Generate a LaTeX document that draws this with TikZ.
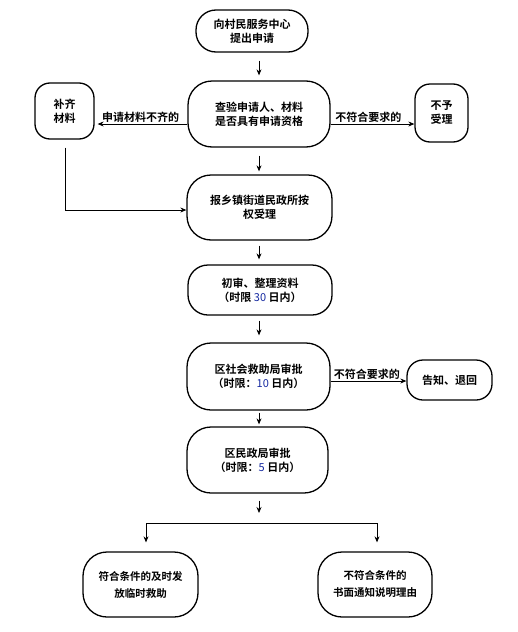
\documentclass[tikz,border=0pt]{standalone}
\usepackage{fontspec}
\setmainfont{Noto Sans CJK SC}[BoldFont={Noto Sans CJK SC Bold}]
\usetikzlibrary{arrows.meta}
\definecolor{numblue}{RGB}{20,40,160}
\tikzset{
  box/.style={draw, line width=1.3pt, rounded corners=20pt, align=center, inner sep=0pt,
    font=\fontsize{11}{14}\selectfont\bfseries},
  sz/.style 2 args={minimum width=#1pt, minimum height=#2pt},
  arr/.style={draw, line width=0.8pt, -{Stealth[length=6pt,width=5pt]}},
  ln/.style={draw, line width=0.8pt},
  lab/.style={font=\fontsize{11}{13}\selectfont\bfseries, inner sep=1pt, anchor=south}
}
\begin{document}
\begin{tikzpicture}[x=1pt,y=-1pt]
\useasboundingbox (0,0) rectangle (518,632);
\node[box, sz={112}{42}] (n1) at (252,31) {向村民服务中心\\提出申请};
\node[box, sz={142}{66}, rounded corners=24pt] (n2) at (259,114) {查验申请人、材料\\是否具有申请资格};
\node[box, sz={59}{56}, rounded corners=15pt] (lft) at (64.5,111) {补齐\\材料};
\node[box, sz={53}{58}, rounded corners=15pt] (rgt) at (441.5,113) {不予\\受理};
\node[box, sz={145}{65}, rounded corners=24pt] (n3) at (259.5,207.5) {报乡镇街道民政所按\\权受理};
\node[box, sz={144}{50}] (n4) at (260,290) {初审、整理资料\\（时限 \textcolor{numblue}{\mdseries 30} 日内）};
\node[box, sz={143}{67}, rounded corners=24pt] (n5) at (258.5,376.5) {区社会救助局审批\\（时限：\textcolor{numblue}{\mdseries 10} 日内）};
\node[box, sz={85}{40}, rounded corners=16pt] (rb) at (449.5,380) {告知、退回};
\node[box, sz={141}{66}, rounded corners=24pt] (n6) at (257.5,460) {区民政局审批\\（时限：\textcolor{numblue}{\mdseries 5} 日内）};
\node[box, sz={115}{65}, rounded corners=24pt, font=\fontsize{10.5}{17}\selectfont\bfseries] (b1) at (140.5,584.5) {符合条件的及时发\\放临时救助};
\node[box, sz={114}{65}, rounded corners=24pt, font=\fontsize{10.5}{17}\selectfont\bfseries] (b2) at (375,584.5) {不符合条件的\\书面通知说明理由};

\coordinate (yA) at (0,124);
\coordinate (yB) at (0,210);
\coordinate (yC) at (0,381);
\coordinate (top) at (259,513);
\coordinate (bl) at (146,523);
\coordinate (brr) at (377,523);
\coordinate (lc) at (65,210);
\coordinate (xm) at (259,0);

\draw[arr, shorten <=8pt, shorten >=5pt] (n1.south -| xm) -- (n2.north -| xm);
\draw[arr] (n2.west |- yA) -- node[lab, pos=0.52] {申请材料不齐的} ([xshift=3pt]lft.east |- yA);
\draw[arr] (n2.east |- yA) -- node[lab, pos=0.45] {不符合要求的} (rgt.west |- yA);
\draw[ln, shorten <=8pt] (lft.south -| lc) -- (lc);
\draw[arr] (lc) -- (n3.west |- yB);
\draw[arr, shorten <=8pt, shorten >=3pt] (n2.south -| xm) -- (n3.north -| xm);
\draw[arr, shorten <=5pt, shorten >=5pt] (n3.south -| xm) -- (n4.north -| xm);
\draw[arr, shorten <=5pt, shorten >=7pt] (n4.south -| xm) -- (n5.north -| xm);
\draw[arr, shorten <=2pt, shorten >=2pt] (n5.south -| xm) -- (n6.north -| xm);
\draw[arr] (n5.east |- yC) -- node[lab, pos=0.48] {不符合要求的} (rb.west |- yC);
\draw[arr, shorten <=7pt] (n6.south -| xm) -- (top);
\draw[ln] (bl) -- (brr);
\draw[arr, shorten >=9pt] (bl) -- (bl |- b1.north);
\draw[arr, shorten >=9pt] (brr) -- (brr |- b2.north);
\end{tikzpicture}
\end{document}
